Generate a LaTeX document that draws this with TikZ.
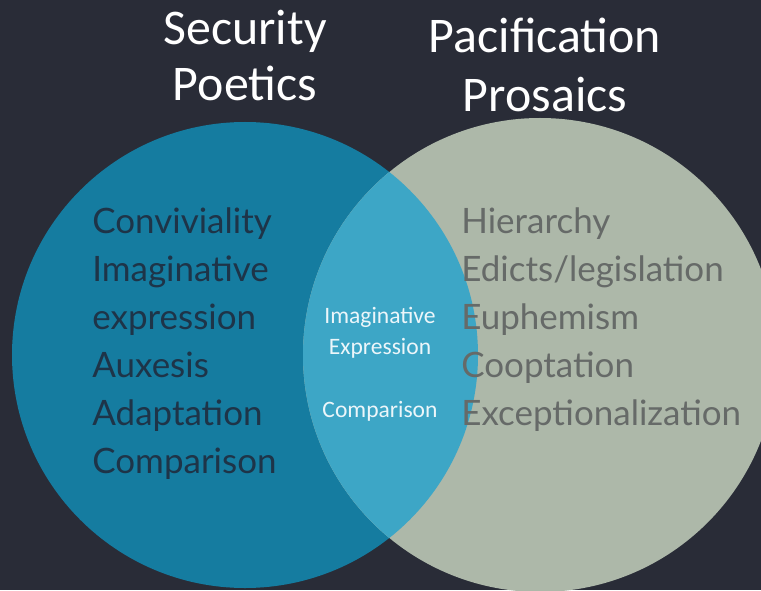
\documentclass[tikz,border=0pt]{standalone}
\usepackage{fontspec}
\setmainfont{Lato}
\newfontfamily\headfont{Carlito}
\usepackage{tikz}
\usetikzlibrary{positioning}
\definecolor{mybg}{RGB}{41,44,55}
\definecolor{myblue}{RGB}{21,124,160}
\definecolor{mysky}{RGB}{61,166,198}
\definecolor{mysage}{RGB}{173,184,169}
\definecolor{myink}{RGB}{30,52,72}
\definecolor{mygrey}{RGB}{102,106,104}
\definecolor{mywhite}{RGB}{236,246,250}
\tikzset{
  heading/.style={anchor=base, inner sep=0pt, text=white,
    font=\headfont\fontsize{28.4}{32}\selectfont},
  poetitem/.style={anchor=base west, inner sep=0pt, text=myink,
    font=\fontsize{19.9}{24}\selectfont},
  prositem/.style={anchor=base west, inner sep=0pt, text=mygrey,
    font=\fontsize{19.9}{24}\selectfont},
  miditem/.style={anchor=base, inner sep=0pt, text=mywhite,
    font=\headfont\fontsize{13.4}{15}\selectfont}
}

\begin{document}
\begin{tikzpicture}
  % Backdrop
  \fill[mybg] (0, 0) rectangle (15.22, 11.8);
  \useasboundingbox (0, 0) rectangle (15.22, 11.8);

  % Circles and their overlap
  \fill[myblue] (4.9, 4.7) circle (4.66);
  \fill[mysage] (10.8, 4.7) circle (4.74);
  \begin{scope}
    \clip (4.9, 4.7) circle (4.66);
    \fill[mysky] (10.8, 4.7) circle (4.74);
  \end{scope}

  % Headings
  \node[heading] (security) at (4.9, 10.9) {Security};
  \node[heading] (poetics) at (4.9, 9.78) {Poetics};
  \node[heading] (pacification) at (10.9, 10.74) {Pacification};
  \node[heading] (prosaics) at (10.9, 9.56) {Prosaics};

  % Left list
  \node[poetitem] (convivial) at (1.84, 7.14) {Conviviality};
  \node[poetitem] (imagine) at (1.84, 6.18) {Imaginative};
  \node[poetitem] (express) at (1.84, 5.22) {expression};
  \node[poetitem] (auxesis) at (1.84, 4.26) {Auxesis};
  \node[poetitem] (adapt) at (1.84, 3.30) {Adaptation};
  \node[poetitem] (compare) at (1.84, 2.34) {Comparison};

  % Right list
  \node[prositem] (hierarchy) at (9.22, 7.14) {Hierarchy};
  \node[prositem] (edicts) at (9.22, 6.18) {Edicts/legislation};
  \node[prositem] (euphemism) at (9.22, 5.22) {Euphemism};
  \node[prositem] (cooptation) at (9.22, 4.26) {Cooptation};
  \node[prositem] (exception) at (9.22, 3.30) {Exceptionalization};

  % Shared terms
  \node[miditem] (midimagine) at (7.6, 5.34) {Imaginative};
  \node[miditem] (midexpress) at (7.6, 4.72) {Expression};
  \node[miditem] (midcompare) at (7.6, 3.46) {Comparison};
\end{tikzpicture}
\end{document}
